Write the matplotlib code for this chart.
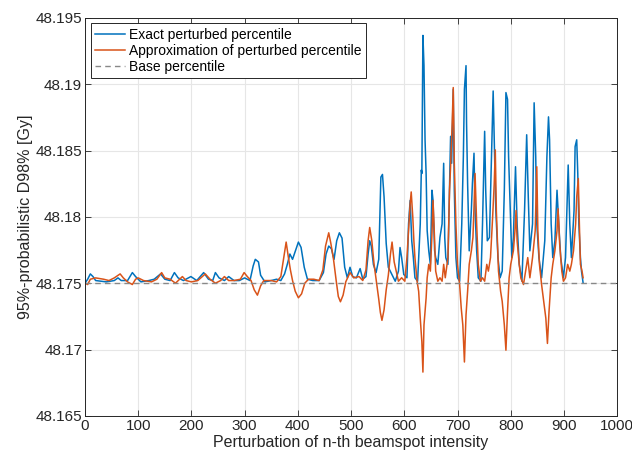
import numpy as np
import matplotlib
matplotlib.use("Agg")
import matplotlib.pyplot as plt
from matplotlib.ticker import FuncFormatter

plt.rcParams["font.family"] = ["Liberation Sans", "DejaVu Sans"]

# values (index of perturbed beamspot, D98 in Gy)
base_value = 48.175

exact_idx = [
    0, 5, 10, 15, 20, 40, 55, 62, 68, 80, 89, 95, 105, 120, 130, 142, 150, 160,
    168, 175, 185, 199, 210, 223, 232, 240, 245, 252, 262, 270, 280, 290, 300,
    310, 316, 320, 326, 330, 338, 350, 360, 368, 375, 380, 385, 390, 395, 401,
    406, 412, 418, 428, 440, 448, 453, 458, 463, 468, 473, 478, 483, 488, 493,
    498, 503, 510, 517, 522, 528, 532, 535, 538, 542, 547, 552, 556, 559, 562,
    566, 570, 575, 580,
    583, 589, 592, 595, 599, 605, 608, 611, 614, 617, 620, 625, 630, 632, 633,
    635, 637, 639, 641, 643, 646, 649, 652, 654, 657, 659, 663, 667, 671, 674,
    676, 678, 682, 685, 687, 689, 692, 694, 697, 700, 704, 708, 711, 713, 716,
    717, 719, 722, 726, 728, 731, 733, 736, 739, 744, 747, 751, 753, 756, 760,
    763, 767, 769, 772, 776, 780, 784, 788, 791, 794, 796, 799, 802, 805, 809,
    812, 816, 821, 826, 830, 833, 836, 841, 844, 847, 849, 853, 858, 864, 868,
    871, 873, 876, 879, 883, 887, 891, 894, 899, 903, 908, 911, 914, 919, 921,
    924, 926, 928, 931, 933, 936,
]
exact_val = [
    48.1750, 48.1753, 48.1757, 48.1755, 48.1752, 48.1751, 48.1752, 48.1754,
    48.1752, 48.1752, 48.1758, 48.1755, 48.1751, 48.1752, 48.1753, 48.1757,
    48.1753, 48.1752, 48.1758, 48.1754, 48.1752, 48.1755, 48.1752, 48.1758,
    48.1753, 48.1752, 48.1758, 48.1754, 48.1752, 48.1755, 48.1752, 48.1752,
    48.1754, 48.1752, 48.1763, 48.1768, 48.1766, 48.1756, 48.1751, 48.1752,
    48.1753, 48.1752, 48.1757, 48.1764, 48.1772, 48.1768, 48.1774, 48.1781,
    48.1777, 48.1762, 48.1753, 48.1752, 48.1752, 48.1758, 48.1772, 48.1778,
    48.1776, 48.1768, 48.1782, 48.1788, 48.1784, 48.1762, 48.1754, 48.1762,
    48.1755, 48.1754, 48.1761, 48.1753, 48.1755, 48.1772, 48.1782, 48.1778,
    48.1764, 48.1758, 48.1768, 48.1830, 48.1832, 48.1815, 48.1780, 48.1762,
    48.1758, 48.1754,
    48.17515, 48.17591, 48.17769, 48.17693, 48.17566, 48.17541, 48.17947,
    48.18124, 48.17820, 48.17693, 48.17541, 48.17515, 48.17947, 48.18353,
    48.18327, 48.19368, 48.19140, 48.18581, 48.18327, 48.17896, 48.17744,
    48.17642, 48.18201, 48.18124, 48.17744, 48.17693, 48.17642, 48.17845,
    48.17947, 48.18404, 48.17845, 48.17693, 48.17642, 48.18201, 48.18607,
    48.18404, 48.18962, 48.18201, 48.17693, 48.17541, 48.17515, 48.17947,
    48.18454, 48.18962, 48.19140, 48.18708, 48.18251, 48.17744, 48.18048,
    48.18251, 48.18480, 48.18048, 48.17744, 48.17541, 48.17515, 48.17947,
    48.18645, 48.18201, 48.17820, 48.17845, 48.18327, 48.18949, 48.18581,
    48.18048, 48.17693, 48.17541, 48.17591, 48.18201, 48.18937, 48.18886,
    48.18454, 48.18074, 48.17693, 48.17845, 48.18378, 48.17947, 48.17642,
    48.17515, 48.18048, 48.18619, 48.18150, 48.17744, 48.17947, 48.18860,
    48.18454, 48.17947, 48.17693, 48.17541, 48.17820, 48.18454, 48.18754,
    48.18581, 48.17947, 48.17693, 48.17820, 48.18201, 48.17896, 48.17693,
    48.17541, 48.17693, 48.18391, 48.17947, 48.17693, 48.18048, 48.18530,
    48.18581, 48.18327, 48.17947, 48.17693, 48.17591, 48.17503,
]

approx_idx = [
    0, 5, 10, 20, 35, 45, 55, 66, 72, 80, 89, 95, 100, 110, 125, 135, 144, 150,
    160, 170, 183, 190, 200, 212, 226, 235, 245, 255, 262, 270, 280, 292, 299,
    305, 312, 318, 324, 330, 336, 350, 360, 368, 373, 378, 382, 386, 390, 395,
    401, 407, 413, 420, 430, 440, 447, 452, 458, 462, 467, 472, 476, 480, 485,
    490, 498, 505, 515, 522, 528, 532, 535, 539, 543, 548, 552, 555, 558, 562,
    566, 570, 574, 577, 581,
    589, 595, 601, 605, 608, 611, 613, 616, 618, 620, 624, 627, 630, 633, 635,
    637, 641, 643, 646, 649, 652, 654, 657, 659, 663, 667, 671, 674, 677, 682,
    685, 687, 690, 692, 694, 697, 700, 704, 707, 710, 713, 716, 719, 722, 726,
    729, 731, 733, 736, 739, 743, 747, 751, 755, 758, 762, 766, 769, 771, 773,
    777, 781, 784, 788, 791, 794, 797, 800, 805, 808, 810, 812, 816, 819, 824,
    828, 832, 836, 841, 846, 849, 851, 854, 858, 862, 866, 869, 872, 876, 879,
    883, 887, 889, 892, 896, 899, 903, 907, 911, 914, 918, 922, 924, 927, 929,
    931, 934, 936,
]
approx_val = [
    48.1750, 48.1749, 48.1753, 48.1754, 48.1753, 48.1752, 48.1754, 48.1757,
    48.1754, 48.1751, 48.1749, 48.1753, 48.1754, 48.1752, 48.1751, 48.1753,
    48.1758, 48.1754, 48.1753, 48.1750, 48.1755, 48.1752, 48.1751, 48.1752,
    48.1757, 48.1753, 48.1750, 48.1752, 48.1755, 48.1752, 48.1752, 48.1753,
    48.1758, 48.1755, 48.1752, 48.1745, 48.1741, 48.1748, 48.1752, 48.1752,
    48.1751, 48.1755, 48.1768, 48.1781, 48.1770, 48.1760, 48.1752, 48.1744,
    48.1739, 48.1742, 48.1750, 48.1753, 48.1753, 48.1752, 48.1760, 48.1778,
    48.1788, 48.1780, 48.1768, 48.1752, 48.1740, 48.1736, 48.1741, 48.1751,
    48.1758, 48.1754, 48.1755, 48.1752, 48.1760, 48.1782, 48.1792, 48.1782,
    48.1765, 48.1750, 48.1738, 48.1728, 48.1722, 48.1730, 48.1745, 48.1756,
    48.1772, 48.1781, 48.1766,
    48.17515, 48.17541, 48.17515, 48.17693, 48.17896, 48.18099, 48.18188,
    48.17997, 48.17820, 48.17693, 48.17515, 48.17439, 48.17236, 48.17058,
    48.16830, 48.17185, 48.17388, 48.17541, 48.17642, 48.17591, 48.17871,
    48.18124, 48.17820, 48.17591, 48.17515, 48.17541, 48.17515, 48.17642,
    48.17541, 48.17693, 48.18201, 48.18378, 48.18708, 48.18975, 48.18404,
    48.17947, 48.17642, 48.17490, 48.17312, 48.17185, 48.16906, 48.17261,
    48.17439, 48.17642, 48.17744, 48.17845, 48.18074, 48.18327, 48.17947,
    48.17642, 48.17515, 48.17541, 48.17515, 48.17642, 48.17591, 48.17693,
    48.17997, 48.18251, 48.18505, 48.18048, 48.17591, 48.17439, 48.17363,
    48.17185, 48.16995, 48.17287, 48.17541, 48.17642, 48.17744, 48.17896,
    48.18048, 48.17820, 48.17642, 48.17541, 48.17490, 48.17591, 48.17693,
    48.17541, 48.17693, 48.17896, 48.18378, 48.17896, 48.17642, 48.17490,
    48.17363, 48.17236, 48.17046, 48.17287, 48.17541, 48.17642, 48.17744,
    48.17896, 48.18061, 48.17794, 48.17591, 48.17515, 48.17541, 48.17642,
    48.17591, 48.17642, 48.17744, 48.17947, 48.18150, 48.18289, 48.17947,
    48.17642, 48.17591, 48.17541,
]

x_ticks = list(range(0, 1001, 100))
y_ticks = [48.165, 48.17, 48.175, 48.18, 48.185, 48.19, 48.195]

fig = plt.figure(figsize=(6.32, 4.59), dpi=100)
ax = fig.add_axes([0.1345, 0.094, 0.842, 0.867])

ax.plot(exact_idx, exact_val, color="#0072BD", lw=1.1,
        label="Exact perturbed percentile")
ax.plot(approx_idx, approx_val, color="#D95319", lw=1.1,
        label="Approximation of perturbed percentile")
ax.axhline(base_value, color="#888888", lw=1.0, ls=(0, (4, 3)),
           label="Base percentile")

ax.set_xlim(0, 1000)
ax.set_ylim(48.165, 48.195)
ax.set_xticks(x_ticks)
ax.set_yticks(y_ticks)
ax.yaxis.set_major_formatter(FuncFormatter(lambda v, p: f"{v:g}"))
ax.tick_params(direction="in", top=True, right=True, length=4, width=0.6,
               color="#262626", labelsize=11, labelcolor="#262626", pad=2)
ax.grid(True, color="#e6e6e6", lw=0.8)
ax.set_axisbelow(True)
for s in ax.spines.values():
    s.set_color("#262626")
    s.set_linewidth(0.7)

ax.set_xlabel("Perturbation of n-th beamspot intensity", fontsize=11.5,
              color="#262626", labelpad=2)
ax.set_ylabel("95%-probabilistic D98% [Gy]", fontsize=11.5, color="#262626",
              labelpad=2)

leg = ax.legend(loc="upper left", fontsize=10, handlelength=2.2,
                handletextpad=0.3, borderpad=0.3, labelspacing=0.15,
                borderaxespad=0.4, fancybox=False, framealpha=1)
leg.get_frame().set_edgecolor("#262626")
leg.get_frame().set_linewidth(0.7)

fig.savefig("out.png", dpi=100)
